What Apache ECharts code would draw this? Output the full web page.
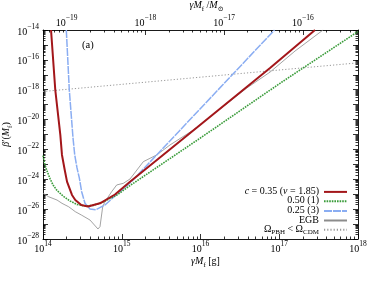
<!DOCTYPE html>
<html><head><meta charset="utf-8">
<script src="https://cdn.jsdelivr.net/npm/echarts@6/dist/echarts.min.js"></script>
<style>html,body{margin:0;padding:0;background:#fff}#c{width:374px;height:281px}</style>
</head><body><div id="c"></div>
<script>
// ---- data (log10 of gamma*M_f [g] and log10 of beta'(M_f)) ----
const seriesNames = ['c = 0.35 (ν = 1.85)', '0.50 (1)', '0.25 (3)', 'EGB', 'Ω_PBH < Ω_CDM'];

const logM_red  = [14.102, 14.156, 14.220, 14.241, 14.276, 14.305, 14.368, 14.410, 14.486, 14.571, 14.724, 14.914, 15.105, 15.994, 16.883, 17.454];
const logB_red  = [-14.00, -18.02, -21.03, -22.37, -23.38, -24.16, -25.05, -25.39, -25.72, -25.82, -25.61, -25.02, -24.16, -20.36, -16.55, -14.00];

const logM_green = [14.000, 14.025, 14.051, 14.089, 14.127, 14.178, 14.254, 14.343, 14.432, 14.533, 14.635, 14.762, 14.940, 15.105, 15.994, 17.010, 18.000];
const logB_green = [-22.41, -23.04, -23.44, -23.95, -24.38, -24.75, -25.12, -25.45, -25.69, -25.79, -25.75, -25.52, -25.05, -24.42, -21.25, -17.57, -14.10];

const logM_blue = [14.296, 14.334, 14.381, 14.403, 14.432, 14.461, 14.491, 14.533, 14.597, 14.673, 14.787, 14.914, 15.105, 15.444, 15.740, 15.994, 16.607, 16.940];
const logB_blue = [-14.00, -18.02, -21.23, -22.37, -23.24, -23.91, -24.83, -25.61, -25.99, -26.04, -25.72, -25.12, -24.25, -22.37, -20.71, -19.29, -15.86, -14.00];

const logM_egb = [14.000, 14.072, 14.178, 14.241, 14.326, 14.410, 14.486, 14.597, 14.698, 14.724, 14.758, 14.787, 14.872, 14.936, 15.020, 15.105, 15.274, 15.444, 15.613, 15.909, 16.587, 16.883, 17.200, 17.556];
const logB_egb = [-24.94, -25.17, -25.39, -25.61, -25.84, -26.17, -26.39, -26.73, -27.33, -27.17, -25.84, -25.50, -24.83, -24.38, -24.27, -23.98, -22.82, -22.37, -21.70, -20.70, -17.89, -16.82, -15.41, -14.00];

const logM_cdm = [14.0, 18.0];
const logB_cdm = [-18.12, -16.20];

// ---- tick labels ----
const xLabelExp = [14, 15, 16, 17, 18];
const yLabelExp = [-28, -26, -24, -22, -20, -18, -16, -14];
const topLabelExp = [-19, -18, -17, -16];
const solarMassGrams = 1.989e33;

// ---- build ----
const F = "'Liberation Serif','DejaVu Serif',serif";
const logMsun = Math.log10(solarMassGrams);
const pts = (xs, ys) => xs.map((x, i) => [Math.pow(10, x), Math.pow(10, ys[i])]);
const sgn = n => (n < 0 ? '\u2212' + (-n) : String(n));
const pow10 = n => '{b|10}{s|' + sgn(n) + '}';
const supRich = {
  b: {fontFamily: F, fontSize: 10, lineHeight: 14, verticalAlign: 'bottom', color: '#000'},
  s: {fontFamily: F, fontSize: 7.5, lineHeight: 8, verticalAlign: 'top', color: '#000'}
};
const subRich = {
  m: {fontFamily: F, fontSize: 10, lineHeight: 13, verticalAlign: 'top', color: '#000'},
  mi: {fontFamily: F, fontSize: 10, lineHeight: 13, verticalAlign: 'top', fontStyle: 'italic', color: '#000'},
  d: {fontFamily: F, fontSize: 7, lineHeight: 8, verticalAlign: 'bottom', color: '#000'}
};
const legRich = {
  l: {fontFamily: F, fontSize: 10, lineHeight: 11, verticalAlign: 'top', color: '#000'},
  li: {fontFamily: F, fontSize: 10, lineHeight: 11, verticalAlign: 'top', fontStyle: 'italic', color: '#000'},
  ld: {fontFamily: F, fontSize: 7, lineHeight: 8, verticalAlign: 'bottom', color: '#000'}
};
const legendText = {
  [seriesNames[0]]: '{li|c}{l| = 0.35 (}{li|ν}{l| = 1.85)}',
  [seriesNames[1]]: '{l|0.50 (1)}',
  [seriesNames[2]]: '{l|0.25 (3)}',
  [seriesNames[3]]: '{l|EGB}',
  [seriesNames[4]]: '{l|Ω}{ld|PBH}{l| < Ω}{ld|CDM}'
};

const range = (a, b) => { const r = []; for (let i = a; i <= b; i++) r.push(i); return r; };
const minorIn = (offset, lo, hi) => {
  const r = [];
  for (let k = Math.floor(lo - offset) - 1; k <= Math.ceil(hi - offset); k++)
    for (let m = 2; m <= 9; m++) { const v = offset + k + Math.log10(m); if (v > lo && v < hi) r.push(v); }
  return r;
};
const xMinor = minorIn(0, 14, 18);
const topMajor = topLabelExp.map(e => logMsun + e);
const topMinor = minorIn(logMsun, 14, 18);
const yMajor = range(-28, -14);
const yMinor = minorIn(0, -28, -14);

const lineC = {color: '#000', width: 0.9};
const tickC = {color: '#000', width: 0.8};
const deco = (pos, min, max, ticks, len, extra) => Object.assign({
  type: 'value', position: pos, min: min, max: max,
  axisLine: {show: false, onZero: false},
  axisTick: {show: true, inside: true, length: len, customValues: ticks, lineStyle: tickC},
  axisLabel: {show: false},
  splitLine: {show: false}, axisPointer: {show: false}
}, extra || {});

const chart = echarts.init(document.getElementById('c'), null, {renderer: 'canvas'});
const legendTops = [186.4, 195.8, 205.4, 215.0, 224.2];
chart.setOption({
  animation: false,
  backgroundColor: '#fff',
  grid: {left: 43, right: 16, top: 30, bottom: 42, containLabel: false, outerBoundsMode: 'none'},
  xAxis: [
    {type: 'log', min: 1e14, max: 1e18, show: false},
    deco('bottom', 14, 18, xLabelExp, 5, {
      axisLine: {show: true, onZero: false, lineStyle: lineC},
      axisLabel: {show: true, customValues: xLabelExp, formatter: v => pow10(Math.round(v)), rich: supRich, margin: 1},
      name: '{mi|γM}{d|f}{m| [g]}', nameLocation: 'middle', nameGap: 17, nameMoveOverlap: false,
      nameTextStyle: {rich: subRich, padding: [0, 0, 0, 10]}
    }),
    deco('bottom', 14, 18, xMinor, 2.5),
    deco('top', 14, 18, topMajor, 5, {
      axisLine: {show: true, onZero: false, lineStyle: lineC},
      axisLabel: {show: true, customValues: topMajor, formatter: v => pow10(Math.round(v - logMsun)), rich: supRich, margin: 2},
      name: '{mi|γM}{d|f}{m| /}{mi|M}{d|⊙}', nameLocation: 'middle', nameGap: 17, nameMoveOverlap: false,
      nameTextStyle: {rich: subRich, padding: [0, 0, 0, 12]}
    }),
    deco('top', 14, 18, topMinor, 2.5)
  ],
  yAxis: [
    {type: 'log', min: 1e-28, max: 1e-14, show: false},
    deco('left', -28, -14, yMajor, 5, {
      axisLine: {show: true, onZero: false, lineStyle: lineC},
      axisLabel: {show: true, customValues: yLabelExp, formatter: v => pow10(Math.round(v)), rich: supRich, margin: 4},
      name: '{mi|β}{m|′(}{mi|M}{d|f}{m|)}', nameLocation: 'middle', nameGap: 29, nameMoveOverlap: false,
      nameTextStyle: {rich: subRich}
    }),
    deco('left', -28, -14, yMinor, 2.5),
    deco('right', -28, -14, yMajor, 5, {axisLine: {show: true, onZero: false, lineStyle: lineC}}),
    deco('right', -28, -14, yMinor, 2.5)
  ],
  legend: seriesNames.map((n, i) => ({
    data: [n], orient: 'vertical', right: 26, top: legendTops[i], padding: 0,
    itemWidth: 23, itemHeight: 8, itemGap: 0, align: 'right', selectedMode: false,
    itemStyle: {opacity: 0, color: 'rgba(0,0,0,0)', borderWidth: 0},
    formatter: name => legendText[name],
    textStyle: {fontFamily: F, fontSize: 10, color: '#000', rich: legRich}
  })),
  graphic: [{type: 'text', left: 82, top: 40, style: {text: '(a)', font: "10.5px 'Liberation Serif'", fill: '#000'}}],
  series: [
    {type: 'line', name: seriesNames[4], data: pts(logM_cdm, logB_cdm), symbol: 'none', silent: true, z: 2,
     lineStyle: {color: '#999', width: 1, type: [1.2, 2]}, itemStyle: {color: '#999'}},
    {type: 'line', name: seriesNames[3], data: pts(logM_egb, logB_egb), symbol: 'none', silent: true, z: 3,
     lineStyle: {color: '#8c8c8c', width: 0.8}, itemStyle: {color: '#8c8c8c'}},
    {type: 'line', name: seriesNames[2], data: pts(logM_blue, logB_blue), symbol: 'none', silent: true, z: 4,
     lineStyle: {color: '#8aadf2', width: 1.5, type: [8, 1]}, itemStyle: {color: '#8aadf2'}},
    {type: 'line', name: seriesNames[1], data: pts(logM_green, logB_green), symbol: 'none', silent: true, z: 5,
     lineStyle: {color: '#3a9c3a', width: 1.6, type: [1.6, 1]}, itemStyle: {color: '#3a9c3a'}},
    {type: 'line', name: seriesNames[0], data: pts(logM_red, logB_red), symbol: 'none', silent: true, z: 6,
     lineStyle: {color: '#a3161a', width: 2}, itemStyle: {color: '#a3161a'}}
  ]
});
</script></body></html>
